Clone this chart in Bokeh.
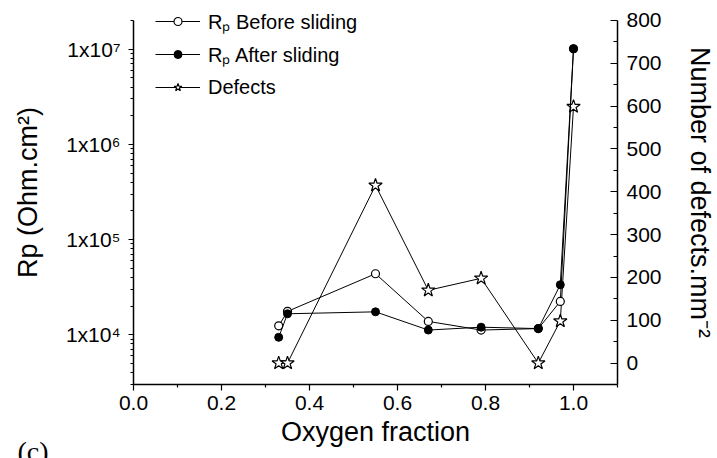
from bokeh.plotting import figure
from bokeh.models import (Range1d, LinearAxis, LinearScale, FixedTicker, CustomJSTickFormatter,
                          PrintfTickFormatter, Legend, LegendItem, Title)
from bokeh.embed import file_html
from bokeh.resources import INLINE

# ---- data ----
oxygen = [0.33, 0.35, 0.55, 0.67, 0.79, 0.92, 0.97, 1.0]
rp_before = [1.24e4, 1.76e4, 4.37e4, 1.38e4, 1.12e4, 1.16e4, 2.24e4, 1.01e7]
rp_after = [9.4e3, 1.66e4, 1.74e4, 1.12e4, 1.20e4, 1.16e4, 3.35e4, 1.01e7]
defects = [0, 0, 415, 170, 198, 0, 98, 599]

x_major = [0.0, 0.2, 0.4, 0.6, 0.8, 1.0]
x_minor = [0.1, 0.3, 0.5, 0.7, 0.9, 1.1]
rp_major = [1e4, 1e5, 1e6, 1e7]
rp_minor = [m * 10 ** e for e in range(3, 8) for m in range(2, 10)]
rp_minor = [v for v in rp_minor if 3e3 <= v <= 2e7 and v not in rp_major]
def_major = list(range(0, 801, 100))
def_minor = list(range(50, 800, 100))

FONT = "Liberation Sans"

# The frame reaches the top edge so the legend (which overlaps the top margin
# in the reference) is not clipped; axis bounds stop the axis lines at the
# original top (2e7 / 800).
p = figure(width=717, height=458, x_range=Range1d(0, 1.1), y_range=Range1d(3e3, 3.246e7),
           y_axis_type="log", output_backend="svg", toolbar_location=None,
           min_border_left=133, min_border_right=97, min_border_top=0, min_border_bottom=74)
p.extra_y_ranges = {"def": Range1d(-50, 846.7)}
p.extra_y_scales = {"def": LinearScale()}
p.outline_line_color = None
p.xgrid.visible = False
p.ygrid.visible = False
p.background_fill_color = "white"
p.border_fill_color = "white"


def style(ax):
    ax.axis_line_color = "black"
    ax.axis_line_width = 1.5
    ax.major_tick_line_color = "black"
    ax.minor_tick_line_color = "black"
    ax.major_tick_line_width = 1.2
    ax.minor_tick_line_width = 1.2
    ax.major_label_text_font = FONT
    ax.major_label_text_font_size = "21px"
    ax.major_label_text_color = "black"
    ax.axis_label_text_font = FONT
    ax.axis_label_text_font_size = "27px"
    ax.axis_label_text_font_style = "normal"
    ax.axis_label_text_color = "black"


xa = p.xaxis[0]
style(xa)
xa.ticker = FixedTicker(ticks=x_major, minor_ticks=x_minor)
xa.formatter = PrintfTickFormatter(format="%.1f")
xa.major_tick_out = 6
xa.major_tick_in = 0
xa.minor_tick_out = 3
xa.minor_tick_in = 0
xa.major_label_standoff = 5
xa.axis_label = "Oxygen fraction"
xa.axis_label_standoff = 4

ya = p.yaxis[0]
style(ya)
ya.bounds = (3e3, 2e7)
ya.ticker = FixedTicker(ticks=rp_major, minor_ticks=rp_minor)
ya.formatter = CustomJSTickFormatter(code="""
const sup = {'0':'\u2070','1':'\u00b9','2':'\u00b2','3':'\u00b3','4':'\u2074','5':'\u2075','6':'\u2076','7':'\u2077','8':'\u2078','9':'\u2079','-':'\u207b'};
const e = Math.round(Math.log10(tick));
return '1x10' + String(e).split('').map(c => sup[c]).join('');
""")
ya.major_tick_out = 5
ya.major_tick_in = 0
ya.minor_tick_out = 3
ya.minor_tick_in = 0
ya.major_label_standoff = 8
ya.axis_label = "Rp (Ohm.cm\u00b2)"
ya.axis_label_standoff = 20

ra = LinearAxis(y_range_name="def")
style(ra)
ra.bounds = (-50, 800)
ra.ticker = FixedTicker(ticks=def_major, minor_ticks=def_minor)
ra.major_tick_out = 0
ra.major_tick_in = 7
ra.minor_tick_out = 0
ra.minor_tick_in = 4
ra.major_label_standoff = 9
ra.axis_label = "Number of defects.mm\u207b\u00b2"
ra.axis_label_standoff = 20
p.add_layout(ra, "right")

# ---- series ----
l_def = p.line(oxygen, defects, y_range_name="def", line_color="black", line_width=1)
s_def = p.scatter(oxygen, defects, y_range_name="def", marker="star", size=14,
                  fill_color="white", line_color="black", line_width=1.2)

l_bef = p.line(oxygen, rp_before, line_color="black", line_width=1)
s_bef = p.scatter(oxygen, rp_before, marker="circle", size=8,
                  fill_color="white", line_color="black", line_width=1.2)

l_aft = p.line(oxygen, rp_after, line_color="black", line_width=1)
s_aft = p.scatter(oxygen, rp_after, marker="circle", size=8,
                  fill_color="black", line_color="black", line_width=1)

legend = Legend(items=[
    LegendItem(label="R\u209a Before sliding", renderers=[l_bef, s_bef]),
    LegendItem(label="R\u209a After sliding", renderers=[l_aft, s_aft]),
    LegendItem(label="Defects", renderers=[l_def, s_def]),
], location=(22, 282))
legend.label_text_font = FONT
legend.label_text_font_size = "20px"
legend.label_text_color = "black"
legend.glyph_width = 45
legend.glyph_height = 20
legend.label_height = 30
legend.label_standoff = 8
legend.spacing = 3
legend.padding = 0
legend.margin = 0
legend.border_line_color = None
legend.background_fill_alpha = 0
p.add_layout(legend)

# panel tag "(c)" in the lower-left corner, cut by the bottom edge as in the reference
tag = Title(text="(c)", align="left", vertical_align="top", offset=-116, standoff=-28,
            text_font="Liberation Serif", text_font_size="28px",
            text_font_style="normal", text_color="black")
p.add_layout(tag, "below")

open("out.html", "w").write(file_html(p, INLINE))
